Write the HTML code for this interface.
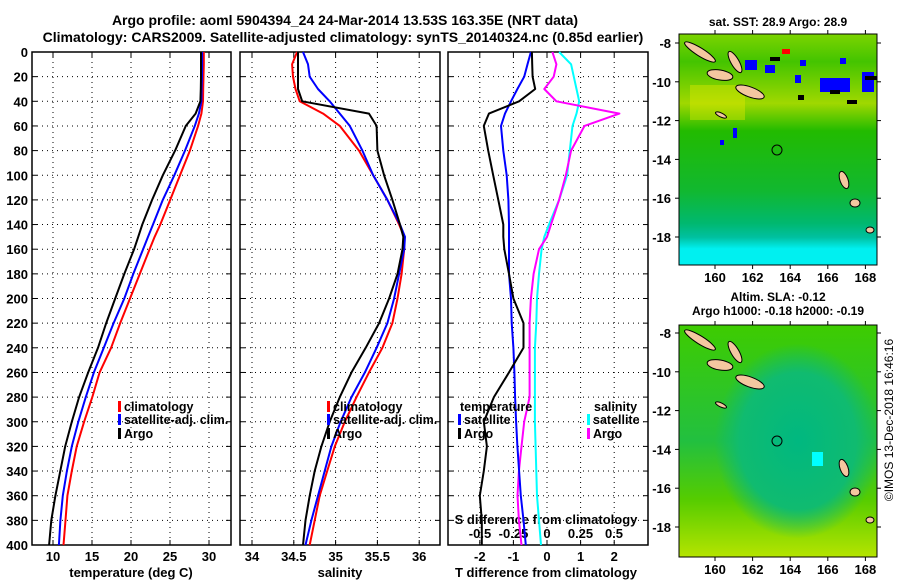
<!DOCTYPE html>
<html><head><meta charset="utf-8"><style>
html,body{margin:0;padding:0;background:#fff;}
svg{display:block;font-family:"Liberation Sans",sans-serif;font-weight:bold;}
</style></head><body>
<svg id="c" width="900" height="580" viewBox="0 0 900 580">
<defs>
<linearGradient id="g1" x1="0" y1="0" x2="0" y2="1">
<stop offset="0" stop-color="#7cd400"/><stop offset="0.12" stop-color="#44c400"/><stop offset="0.3" stop-color="#a0d800"/><stop offset="0.42" stop-color="#22bb00"/><stop offset="0.68" stop-color="#11b830"/><stop offset="0.82" stop-color="#00b870"/><stop offset="0.88" stop-color="#00c0a0"/><stop offset="0.93" stop-color="#00f0f0"/><stop offset="1" stop-color="#00f0f0"/>
</linearGradient>
<linearGradient id="g2" x1="0" y1="0" x2="0" y2="1">
<stop offset="0" stop-color="#3ecc00"/><stop offset="0.5" stop-color="#22c040"/><stop offset="0.75" stop-color="#55cc00"/><stop offset="1" stop-color="#b5e400"/>
</linearGradient>
<radialGradient id="g3" cx="0.6" cy="0.5" r="0.42"><stop offset="0" stop-color="#00b880"/><stop offset="0.7" stop-color="#10bb70"/><stop offset="1" stop-color="#10bb70" stop-opacity="0"/></radialGradient>
</defs>
<g id="titles">
<text x="345" y="25" text-anchor="middle" font-size="14">Argo profile: aoml 5904394_24 24-Mar-2014 13.53S 163.35E (NRT data)</text>
<text x="343" y="42" text-anchor="middle" font-size="14">Climatology: CARS2009. Satellite-adjusted climatology: synTS_20140324.nc (0.85d earlier)</text>
</g>
<g id="p1"></g>
<g id="p2"></g>
<g id="p3"></g>
<g id="maps">
<text x="778" y="26" text-anchor="middle" font-size="12">sat. SST: 28.9 Argo: 28.9</text>
<rect x="679" y="34" width="198" height="231" fill="url(#g1)"/>
<rect x="690" y="85" width="55" height="35" fill="#e8e800" opacity="0.4"/>
<g fill="#0000ff">
<rect x="745" y="60" width="12" height="10"/><rect x="765" y="65" width="10" height="8"/><rect x="820" y="78" width="30" height="14"/><rect x="795" y="75" width="6" height="8"/><rect x="862" y="72" width="12" height="20"/><rect x="800" y="60" width="6" height="6"/><rect x="840" y="58" width="6" height="6"/><rect x="733" y="128" width="4" height="10"/><rect x="720" y="140" width="4" height="5"/></g>
<g fill="#000">
<rect x="770" y="57" width="10" height="4"/><rect x="830" y="90" width="10" height="4"/><rect x="865" y="76" width="12" height="4"/><rect x="847" y="100" width="10" height="4"/><rect x="798" y="95" width="6" height="5"/></g>
<rect x="782" y="49" width="8" height="5" fill="#ff0000"/>
<g fill="#f4c7a0" stroke="#000" stroke-width="1">
<ellipse cx="700" cy="52" rx="18" ry="4" transform="rotate(32 700 52)"/><ellipse cx="720" cy="75" rx="13" ry="5" transform="rotate(10 720 75)"/><ellipse cx="735" cy="62" rx="12" ry="4" transform="rotate(60 735 62)"/><ellipse cx="750" cy="92" rx="15" ry="5" transform="rotate(20 750 92)"/><ellipse cx="721" cy="115" rx="6" ry="2" transform="rotate(25 721 115)"/><ellipse cx="844" cy="180" rx="4" ry="9" transform="rotate(-20 844 180)"/><ellipse cx="855" cy="203" rx="5" ry="4"/><ellipse cx="870" cy="230" rx="4" ry="3"/></g>
<circle cx="777" cy="150" r="5" fill="none" stroke="#000"/>
<text x="778" y="301" text-anchor="middle" font-size="12">Altim. SLA: -0.12</text>
<text x="778" y="315" text-anchor="middle" font-size="12">Argo h1000: -0.18 h2000: -0.19</text>
<rect x="679" y="325" width="198" height="232" fill="url(#g2)"/>
<rect x="679" y="325" width="198" height="232" fill="url(#g3)"/>
<rect x="812" y="452" width="11" height="14" fill="#00ffff"/>
<g fill="#f4c7a0" stroke="#000" stroke-width="1">
<ellipse cx="700" cy="340" rx="18" ry="4" transform="rotate(32 700 340)"/><ellipse cx="720" cy="365" rx="13" ry="5" transform="rotate(10 720 365)"/><ellipse cx="735" cy="352" rx="12" ry="4" transform="rotate(60 735 352)"/><ellipse cx="750" cy="382" rx="15" ry="5" transform="rotate(20 750 382)"/><ellipse cx="721" cy="405" rx="6" ry="2" transform="rotate(25 721 405)"/><ellipse cx="844" cy="468" rx="4" ry="9" transform="rotate(-20 844 468)"/><ellipse cx="855" cy="492" rx="5" ry="4"/><ellipse cx="870" cy="520" rx="4" ry="3"/></g>
<circle cx="777" cy="441" r="5" fill="none" stroke="#000"/>
<text transform="translate(893 420) rotate(-90)" text-anchor="middle" font-size="12" font-weight="normal">©IMOS 13-Dec-2018 16:46:16</text>
</g>
</svg>
<script>
const depths=[0,10,20,30,40,50,60,80,100,120,140,150,160,180,200,220,240,260,280,300,320,340,360,380,400];
const tArgo=[28.97,28.97,28.97,28.95,28.9,28.28,27.02,25.65,24.08,22.71,21.45,20.92,20.4,19.14,17.98,16.82,15.77,14.51,13.35,12.41,11.57,10.94,10.31,9.78,9.5];
const tClim=[29.33,29.33,29.3,29.25,29.23,29.02,28.6,27.55,26.28,25.02,23.76,23.03,22.39,21.13,19.87,18.61,17.45,15.98,15.04,13.99,13.04,12.41,11.85,11.6,11.35];
const tSat=[29.12,29.12,29.1,29.05,29.02,28.7,28.18,26.92,25.55,24.08,22.82,22.18,21.55,20.29,19.14,17.77,16.51,15.25,14.2,13.25,12.41,11.78,11.25,10.95,10.75];
const sArgo=[34.55,34.55,34.55,34.55,34.6,35.4,35.49,35.5,35.58,35.68,35.77,35.81,35.80,35.74,35.64,35.52,35.36,35.19,35.05,34.93,34.83,34.75,34.69,34.64,34.61];
const sClim=[34.54,34.48,34.49,34.52,34.57,34.85,35.05,35.28,35.45,35.62,35.76,35.82,35.82,35.79,35.74,35.68,35.56,35.40,35.25,35.11,34.99,34.90,34.81,34.75,34.69];
const sSat=[34.61,34.67,34.69,34.79,34.93,35.05,35.17,35.32,35.45,35.62,35.77,35.83,35.82,35.76,35.70,35.62,35.49,35.35,35.19,35.06,34.95,34.87,34.79,34.71,34.64];
const dtArgo=[-0.45,-0.44,-0.43,-0.35,-0.83,-1.73,-1.88,-1.75,-1.6,-1.45,-1.3,-1.3,-1.27,-1.13,-1.0,-0.7,-0.7,-1.13,-1.58,-1.88,-1.79,-1.88,-2.0,-1.94,-1.94];
const dtSat=[-0.48,-0.58,-0.68,-0.88,-1.07,-1.25,-1.37,-1.3,-1.2,-1.15,-1.13,-1.13,-1.13,-1.13,-1.07,-1.05,-1.0,-0.97,-0.95,-0.92,-0.88,-0.83,-0.78,-0.7,-0.63];
const dsSat=[0.09,0.18,0.2,0.22,0.24,0.22,0.19,0.17,0.15,0.09,0.015,-0.02,-0.04,-0.06,-0.075,-0.08,-0.09,-0.09,-0.09,-0.09,-0.085,-0.08,-0.075,-0.06,-0.045];
const dsArgo=[0.04,0.07,0.05,-0.02,0.07,0.54,0.28,0.18,0.14,0.09,0.03,0.0,-0.06,-0.1,-0.12,-0.13,-0.13,-0.13,-0.13,-0.17,-0.19,-0.21,-0.22,-0.21,-0.19];
const depthTicks=[0,20,40,60,80,100,120,140,160,180,200,220,240,260,280,300,320,340,360,380,400];
const tTicks=[10,15,20,25,30];
const sTicks=[34,34.5,35,35.5,36];
const dtTicks=[-2,-1,0,1,2];
const dsTicks=[-0.5,-0.25,0,0.25,0.5];
const dsTickLabels=["-0.5","-0.25","0","0.25","0.5"];
const lons=[160,162,164,166,168];
const lats=[-8,-10,-12,-14,-16,-18];

const NS="http://www.w3.org/2000/svg";
const TOP=52,BOT=545;
const y=d=>52+d*1.2325;
const xT=v=>53+(v-10)*7.8;
const xS=v=>252+(v-34)*83.6;
const xDT=v=>547+v*33.6;
const xDS=v=>547+v*134;
function mk(p,tag,a,txt){const e=document.createElementNS(NS,tag);for(const k in a)e.setAttribute(k,a[k]);if(txt!==undefined)e.textContent=txt;p.appendChild(e);return e;}
function frame(g,x0,x1,name,ticks,fx){
 ticks.forEach(t=>mk(g,'line',{x1:fx(t),x2:fx(t),y1:TOP,y2:BOT,stroke:'#000','stroke-dasharray':'1,4'}));
 depthTicks.forEach(d=>mk(g,'line',{x1:x0,x2:x1,y1:y(d),y2:y(d),stroke:'#000','stroke-dasharray':'1,4'}));
 const r=mk(g,'rect',{x:x0,y:TOP,width:x1-x0,height:BOT-TOP,fill:'none',stroke:'#000','stroke-width':1.5});
 
 
 depthTicks.forEach(d=>{mk(g,'line',{x1:x0,x2:x0+5,y1:y(d),y2:y(d),stroke:'#000'});mk(g,'line',{x1:x1-5,x2:x1,y1:y(d),y2:y(d),stroke:'#000'});});
}
function xticks(g,ticks,fx,labels,ly){
 ticks.forEach((t,i)=>{mk(g,'line',{x1:fx(t),x2:fx(t),y1:BOT-5,y2:BOT,stroke:'#000'});mk(g,'line',{x1:fx(t),x2:fx(t),y1:TOP,y2:TOP+5,stroke:'#000'});
 const e=mk(g,'text',{x:fx(t),y:ly,'text-anchor':'middle','font-size':13},labels[i]);
 
 });
}
function line(g,vals,fx,col,name){
 const pts=vals.map((v,i)=>fx(v).toFixed(1)+','+y(depths[i]).toFixed(1)).join(' ');
 const e=mk(g,'polyline',{points:pts,fill:'none',stroke:col,'stroke-width':2,'stroke-linejoin':'round'});
 
 
}
function legend(g,x,yy,col,label,name){
 mk(g,'rect',{x:x,y:yy-10,width:3,height:11,fill:col});
 const e=mk(g,'text',{x:x+6,y:yy,'font-size':12.5},label);
 
 
}
// panel 1
const p1=document.getElementById('p1');
frame(p1,32,231,'temperature-axes',tTicks,xT);
depthTicks.forEach(d=>{const e=mk(p1,'text',{x:28,y:y(d)+5,'text-anchor':'end','font-size':13},String(d));
 
 });
xticks(p1,tTicks,xT,tTicks.map(String),561);
mk(p1,'text',{x:131,y:577,'text-anchor':'middle','font-size':13},'temperature (deg C)');
line(p1,tClim,xT,'#ff0000','temp-climatology-line');
line(p1,tSat,xT,'#0000ff','temp-satellite-line');
line(p1,tArgo,xT,'#000','temp-argo-line');
legend(p1,118,411,'#ff0000','climatology','legend-climatology');
legend(p1,118,424,'#0000ff','satellite-adj. clim.','legend-satellite');
legend(p1,118,438,'#000','Argo','legend-argo');
// panel 2
const p2=document.getElementById('p2');
frame(p2,240,440,'salinity-axes',sTicks,xS);
xticks(p2,sTicks,xS,sTicks.map(String),561);
mk(p2,'text',{x:340,y:577,'text-anchor':'middle','font-size':13},'salinity');
line(p2,sClim,xS,'#ff0000','sal-climatology-line');
line(p2,sSat,xS,'#0000ff','sal-satellite-line');
line(p2,sArgo,xS,'#000','sal-argo-line');
legend(p2,327,411,'#ff0000','climatology','legend-climatology-2');
legend(p2,327,424,'#0000ff','satellite-adj. clim.','legend-satellite-2');
legend(p2,327,438,'#000','Argo','legend-argo-2');
// panel 3
const p3=document.getElementById('p3');
frame(p3,448,648,'difference-axes',dtTicks,xDT);
xticks(p3,dtTicks,xDT,dtTicks.map(String),561);
dsTicks.forEach((t,i)=>{const e=mk(p3,'text',{x:xDS(t),y:538,'text-anchor':'middle','font-size':13},dsTickLabels[i]);
 
 });
mk(p3,'text',{x:546,y:524,'text-anchor':'middle','font-size':13},'S difference from climatology');
mk(p3,'text',{x:546,y:577,'text-anchor':'middle','font-size':13},'T difference from climatology');
line(p3,dsSat,xDS,'#00ffff','s-diff-satellite-line');
line(p3,dsArgo,xDS,'#ff00ff','s-diff-argo-line');
line(p3,dtSat,xDT,'#0000ff','t-diff-satellite-line');
line(p3,dtArgo,xDT,'#000','t-diff-argo-line');
mk(p3,'text',{x:460,y:411,'font-size':12.5},'temperature');
legend(p3,458,424,'#0000ff','satellite','legend-t-satellite');
legend(p3,458,438,'#000','Argo','legend-t-argo');
mk(p3,'text',{x:594,y:411,'font-size':12.5},'salinity');
legend(p3,587,424,'#00ffff','satellite','legend-s-satellite');
legend(p3,587,438,'#ff00ff','Argo','legend-s-argo');
// map axes
const maps=document.getElementById('maps');
const mx=l=>715+(l-160)*18.8;
function mapAxes(y0,y1,latY){
 mk(maps,'rect',{x:679,y:y0,width:198,height:y1-y0,fill:'none',stroke:'#000'});
 lons.forEach(l=>{mk(maps,'line',{x1:mx(l),x2:mx(l),y1:y1,y2:y1+4,stroke:'#000'});mk(maps,'line',{x1:mx(l),x2:mx(l),y1:y0-4,y2:y0,stroke:'#000'});
  const e=mk(maps,'text',{x:mx(l),y:y1+17,'text-anchor':'middle','font-size':13},String(l));
  
  });
 lats.forEach(la=>{const yy=latY(la);mk(maps,'line',{x1:675,x2:679,y1:yy,y2:yy,stroke:'#000'});mk(maps,'line',{x1:877,x2:881,y1:yy,y2:yy,stroke:'#000'});
  const e=mk(maps,'text',{x:671,y:yy+5,'text-anchor':'end','font-size':13},String(la));
  
  });
}
mapAxes(34,265,la=>43+(-8-la)*19.4);
mapAxes(325,557,la=>333+(-8-la)*19.4);
</script>
</body></html>
